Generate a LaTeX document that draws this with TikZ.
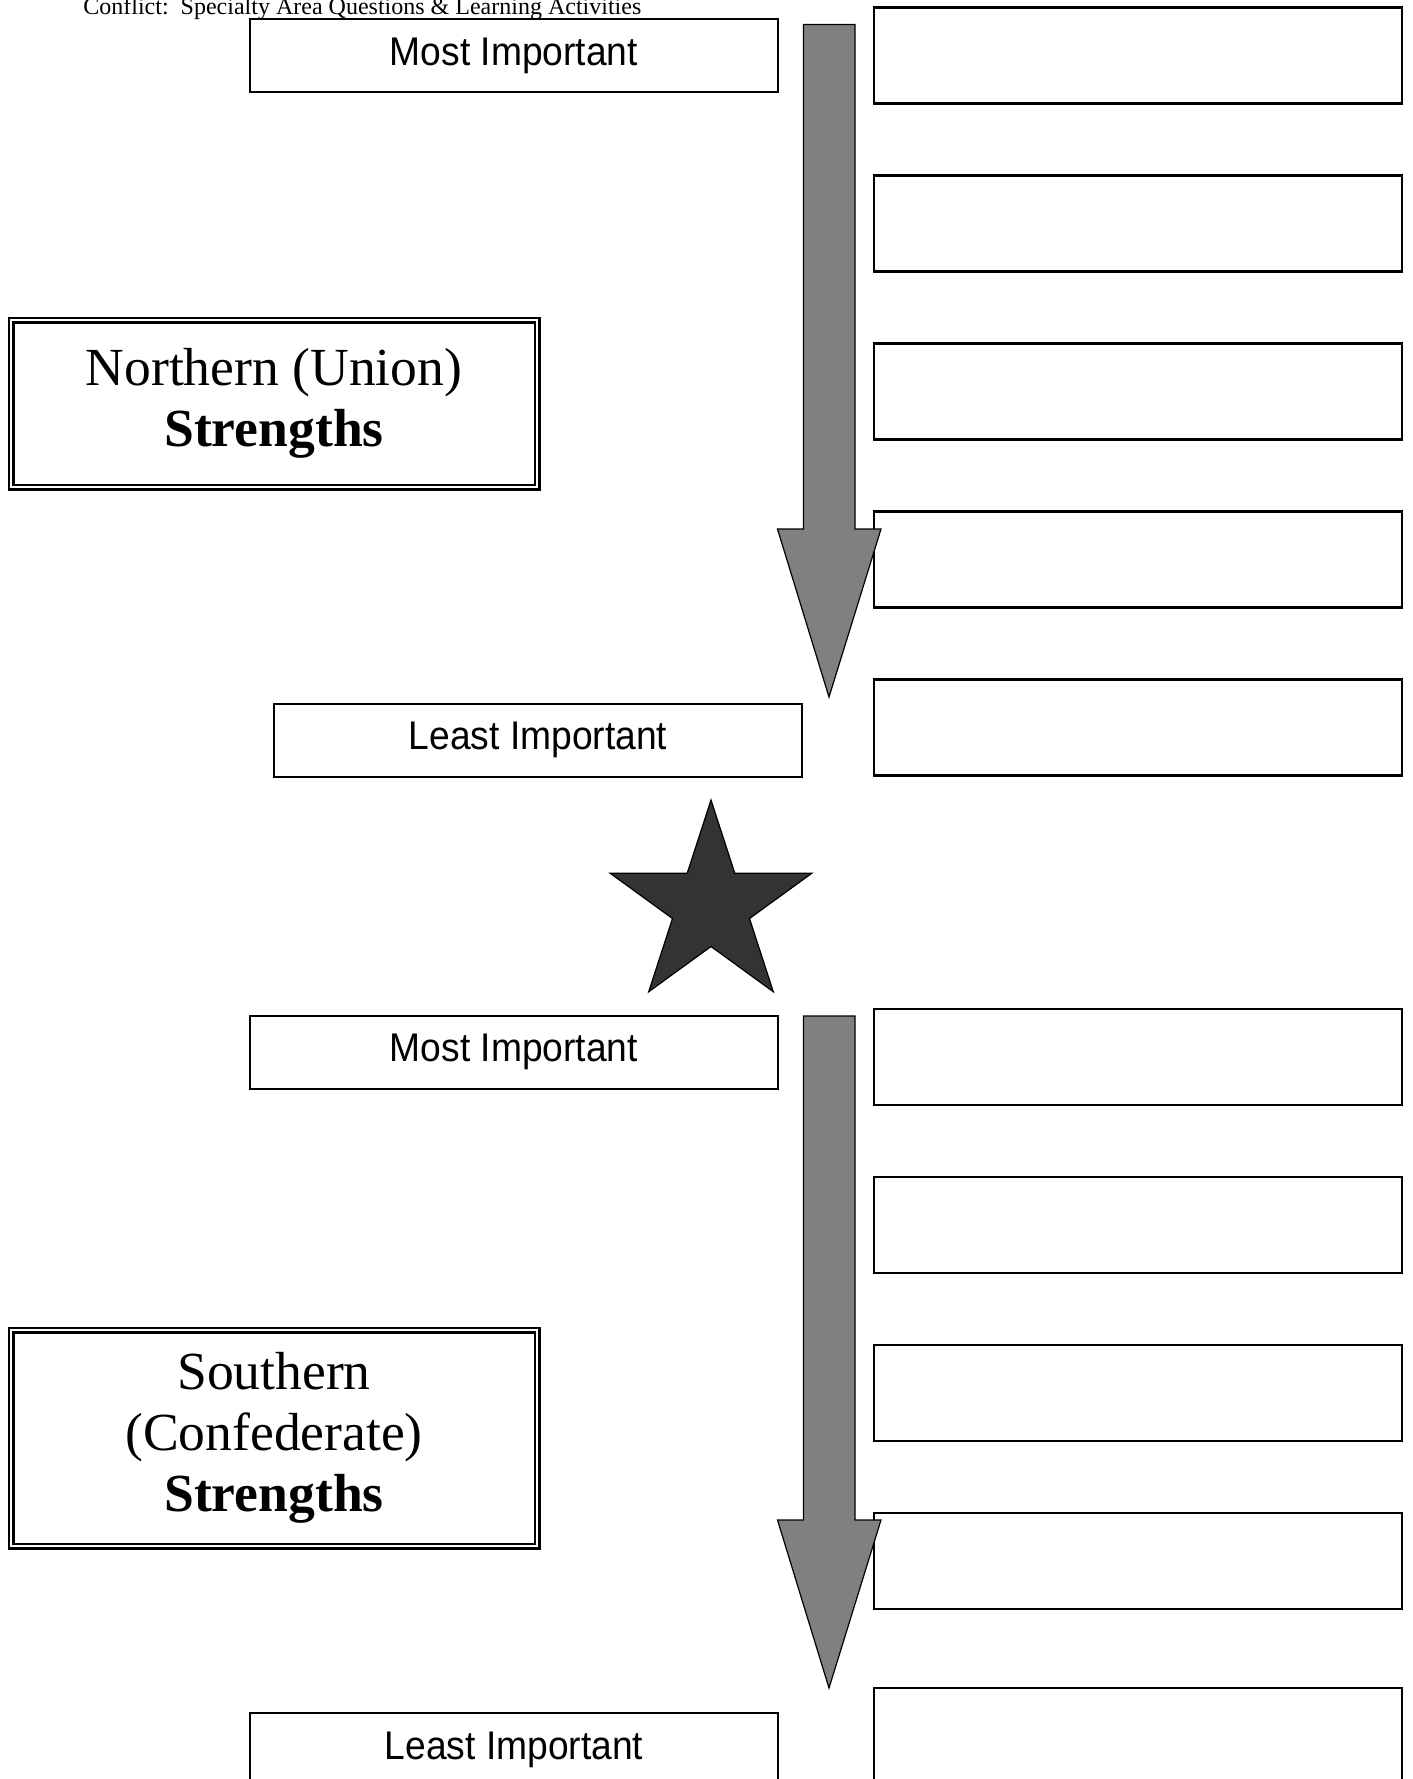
\documentclass[tikz,border=0pt]{standalone}
\usepackage{fontspec}
\setmainfont{Liberation Serif}
\newfontfamily\arialfont[FakeStretch=0.93]{Liberation Sans}
\usetikzlibrary{shapes.geometric}
\definecolor{Shaft}{HTML}{808080}
\definecolor{StarInk}{HTML}{333333}
\tikzset{
  rankbox/.style={draw,line width=1pt,inner sep=0pt,minimum width=264pt,minimum height=36.5pt,
    font=\arialfont\fontsize{20}{24}\selectfont},
  answerbox/.style={draw,line width=1.3pt,inner sep=0pt,minimum width=264pt,minimum height=48pt},
  sidebox/.style={draw,double,line width=1.25pt,double distance=1pt,inner sep=0pt,
    minimum width=263pt,align=center,font=\fontsize{26.8}{30.5}\selectfont},
  rankarrow/.style={fill=Shaft,draw=black,line width=0.6pt,line join=miter}
}

\begin{document}
\begin{tikzpicture}[x=0.5pt,y=-0.5pt]
  \useasboundingbox (0,0) rectangle (1413,1779);
  \node[anchor=base west,inner sep=0pt,font=\fontsize{12}{14}\selectfont] (title) at (83,14.5)
    {Conflict:\ \ Specialty Area Questions \& Learning Activities};
  % north half
  \node[sidebox,minimum height=83.5pt] (north) at (274,403.5) {Northern (Union)\\\textbf{Strengths}};
  \node[rankbox] (most1) at (514,55.5) {Most Important};
  \node[rankbox] (least1) at (538,740) {Least Important};
  \foreach \i/\y in {1/55.5,2/223.5,3/391.5,4/559.5,5/727.5}
    \node[answerbox] (n\i) at (1138,\y) {};
  % south half
  \node[sidebox,minimum height=108pt] (south) at (274,1438) {Southern\\(Confederate)\\\textbf{Strengths}};
  \node[rankbox] (most2) at (514,1052) {Most Important};
  \node[rankbox] (least2) at (514,1749.5) {Least Important};
  \foreach \i/\y in {1/1057,2/1225,3/1393,4/1561,5/1736}
    \node[answerbox] (s\i) at (1138,\y) {};
  % arrows and star
  \foreach \t/\b/\p in {24.5/529/697,1016/1520/1688}
    \draw[rankarrow] (803.5,\t) -- (855,\t) -- (855,\b) -- (881,\b) -- (829,\p)
      -- (777.5,\b) -- (803.5,\b) -- cycle;
  \node[star,star points=5,star point ratio=2.618,minimum size=106pt,inner sep=0pt,
    fill=StarInk,draw=black,line width=0.6pt] (star) at (711,906) {};
\end{tikzpicture}
\end{document}
